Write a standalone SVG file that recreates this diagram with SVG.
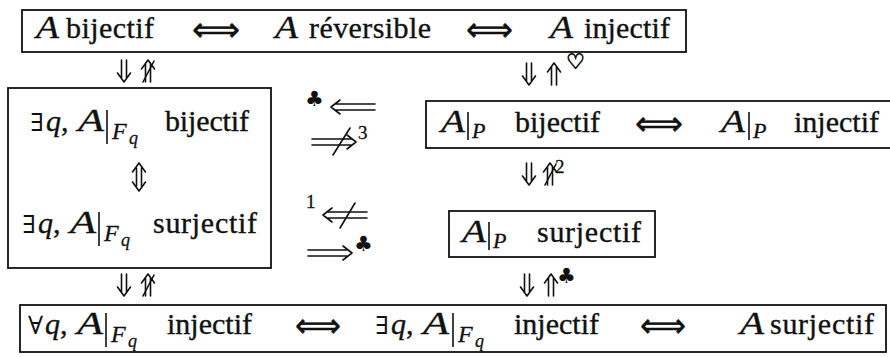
<svg xmlns="http://www.w3.org/2000/svg" xmlns:xlink="http://www.w3.org/1999/xlink" width="890" height="357" viewBox="0 0 890 357">
<style>
.bg{fill:#fff}
.box{fill:none;stroke:#111;stroke-width:1.8}
.t{font-family:"Liberation Serif","Times New Roman",serif;font-size:30px;fill:#111;stroke:#111;stroke-width:0.35}
.i{font-style:italic}
.A{font-family:"Liberation Serif","Times New Roman",serif;font-style:italic;font-size:32px;fill:#111;stroke:#111;stroke-width:0.35}
.m{font-family:"DejaVu Serif","DejaVu Sans",serif;font-size:25px;fill:#111}
.ar{font-family:"DejaVu Sans",sans-serif;font-size:34px;fill:#111;stroke:#111;stroke-width:0.5}
.sub{font-family:"Liberation Serif","Times New Roman",serif;font-style:italic;fill:#111;stroke:#111;stroke-width:0.3}
.sym{font-family:"DejaVu Sans",sans-serif;font-size:21px;fill:#111}
.heart{font-family:"DejaVu Sans",sans-serif;font-size:21px;fill:#111;stroke:#111;stroke-width:0.9}
.num{font-family:"Liberation Serif","Times New Roman",serif;font-size:19px;fill:#111;stroke:#111;stroke-width:0.3}
.bar{stroke:#111;stroke-width:1.6}
.c{fill:none;stroke:#111;stroke-width:1.6;stroke-linecap:round;stroke-linejoin:round}
</style>
<defs>
<g id="dn"><path d="M-2.5,0 V18 M2.5,0 V18 M-6.5,13 L0,22 L6.5,13"/></g>
<g id="up"><path d="M-2.5,22 V4 M2.5,22 V4 M-6.5,9 L0,0 L6.5,9"/></g>
<g id="ud"><path d="M-2.5,5 V23 M2.5,5 V23 M-6.5,9 L0,0 L6.5,9 M-6.5,19 L0,28 L6.5,19"/></g>
<g id="lft"><path d="M0,0 L9,-7 M0,0 L9,7 M4,-3 H44 M4,3 H44"/></g>
<g id="rgt"><path d="M44,0 L35,-7 M44,0 L35,7 M0,-3 H40 M0,3 H40"/></g>
</defs>
<rect class="bg" x="0" y="0" width="890" height="357"/>

<g id="n-top">
<rect class="box" x="22" y="10" width="664" height="42"/>
<text class="A" x="36" y="38" textLength="23" lengthAdjust="spacingAndGlyphs">A</text>
<text class="t" x="66" y="38" textLength="88">bijectif</text>
<text class="ar" x="192" y="41" textLength="48" lengthAdjust="spacingAndGlyphs">⟺</text>
<text class="A" x="275" y="38" textLength="23" lengthAdjust="spacingAndGlyphs">A</text>
<text class="t" x="309" y="38" textLength="122">réversible</text>
<text class="ar" x="466" y="41" textLength="47" lengthAdjust="spacingAndGlyphs">⟺</text>
<text class="A" x="550" y="38" textLength="23" lengthAdjust="spacingAndGlyphs">A</text>
<text class="t" x="584" y="38" textLength="86">injectif</text>
</g>

<g id="n-left">
<rect class="box" x="8" y="88" width="263" height="180"/>
<text class="m" x="30" y="131">∃</text>
<text class="t i" x="46" y="131">q</text>
<text class="t" x="61" y="131">,</text>
<text class="A" x="78" y="131" textLength="26" lengthAdjust="spacingAndGlyphs">A</text>
<line class="bar" x1="107" y1="110" x2="107" y2="144"/>
<text class="sub" x="112" y="139" font-size="24">F</text>
<text class="sub" x="129" y="144" font-size="18">q</text>
<text class="t" x="165" y="131" textLength="84">bijectif</text>
<text class="m" x="22" y="233">∃</text>
<text class="t i" x="38" y="233">q</text>
<text class="t" x="53" y="233">,</text>
<text class="A" x="70" y="233" textLength="26" lengthAdjust="spacingAndGlyphs">A</text>
<line class="bar" x1="99" y1="212" x2="99" y2="246"/>
<text class="sub" x="104" y="241" font-size="24">F</text>
<text class="sub" x="121" y="246" font-size="18">q</text>
<text class="t" x="153" y="233" textLength="104">surjectif</text>
</g>

<g id="n-right">
<rect class="box" x="426" y="101" width="474" height="47"/>
<text class="A" x="441" y="132" textLength="24" lengthAdjust="spacingAndGlyphs">A</text>
<line class="bar" x1="468" y1="112" x2="468" y2="140"/>
<text class="sub" x="472" y="138" font-size="22">P</text>
<text class="t" x="515" y="132" textLength="85">bijectif</text>
<text class="ar" x="635" y="135" textLength="48" lengthAdjust="spacingAndGlyphs">⟺</text>
<text class="A" x="721" y="132" textLength="24" lengthAdjust="spacingAndGlyphs">A</text>
<line class="bar" x1="749" y1="112" x2="749" y2="140"/>
<text class="sub" x="753" y="138" font-size="22">P</text>
<text class="t" x="794" y="132" textLength="85">injectif</text>
</g>

<g id="n-surj">
<rect class="box" x="449" y="211" width="206" height="46"/>
<text class="A" x="462" y="242" textLength="24" lengthAdjust="spacingAndGlyphs">A</text>
<line class="bar" x1="489" y1="222" x2="489" y2="250"/>
<text class="sub" x="493" y="248" font-size="22">P</text>
<text class="t" x="537" y="242" textLength="104">surjectif</text>
</g>

<g id="n-bottom">
<rect class="box" x="20" y="305" width="866" height="47"/>
<text class="m" x="28" y="334">∀</text>
<text class="t i" x="45" y="334">q</text>
<text class="t" x="60" y="334">,</text>
<text class="A" x="77" y="334" textLength="26" lengthAdjust="spacingAndGlyphs">A</text>
<line class="bar" x1="106" y1="313" x2="106" y2="347"/>
<text class="sub" x="111" y="342" font-size="24">F</text>
<text class="sub" x="128" y="347" font-size="18">q</text>
<text class="t" x="167" y="334" textLength="85">injectif</text>
<text class="ar" x="295" y="337" textLength="46" lengthAdjust="spacingAndGlyphs">⟺</text>
<text class="m" x="375" y="334">∃</text>
<text class="t i" x="391" y="334">q</text>
<text class="t" x="406" y="334">,</text>
<text class="A" x="423" y="334" textLength="26" lengthAdjust="spacingAndGlyphs">A</text>
<line class="bar" x1="453" y1="313" x2="453" y2="347"/>
<text class="sub" x="458" y="342" font-size="24">F</text>
<text class="sub" x="475" y="347" font-size="18">q</text>
<text class="t" x="514" y="334" textLength="85">injectif</text>
<text class="ar" x="640" y="337" textLength="46" lengthAdjust="spacingAndGlyphs">⟺</text>
<text class="A" x="740" y="334" textLength="24" lengthAdjust="spacingAndGlyphs">A</text>
<text class="t" x="770" y="334" textLength="104">surjectif</text>
</g>

<g id="connectors" class="c">
<use xlink:href="#dn" x="124" y="60"/>
<use xlink:href="#up" x="148" y="60"/>
<path d="M143,82 L154,61"/>
<use xlink:href="#dn" x="529" y="63"/>
<use xlink:href="#up" x="554" y="63"/>
<use xlink:href="#ud" x="139" y="163"/>
<use xlink:href="#dn" x="529" y="163"/>
<use xlink:href="#up" x="550" y="163"/>
<path d="M545,185 L556,164"/>
<use xlink:href="#dn" x="527" y="274"/>
<use xlink:href="#up" x="551" y="274"/>
<use xlink:href="#dn" x="124" y="274"/>
<use xlink:href="#up" x="148" y="274"/>
<path d="M143,296 L154,275"/>
<use xlink:href="#lft" x="331" y="107"/>
<use xlink:href="#rgt" x="312" y="142"/>
<path d="M333,155 L350,128"/>
<use xlink:href="#lft" x="323" y="215"/>
<path d="M340,228 L355,203"/>
<use xlink:href="#rgt" x="308" y="253"/>
</g>

<g id="labels">
<text class="heart" x="566" y="69">♡</text>
<text class="num" x="555" y="173">2</text>
<text class="sym" x="557" y="283">♣</text>
<text class="sym" x="305" y="106">♣</text>
<text class="num" x="358" y="139">3</text>
<text class="num" x="306" y="208">1</text>
<text class="sym" x="354" y="251">♣</text>
</g>
</svg>
